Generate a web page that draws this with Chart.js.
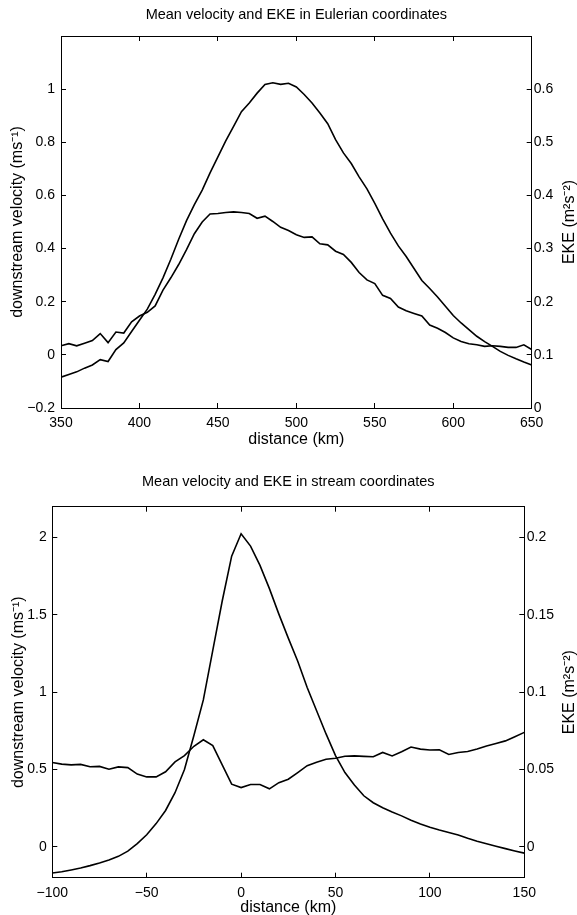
<!DOCTYPE html>
<html>
<head>
<meta charset="utf-8">
<script src="https://cdn.jsdelivr.net/npm/chart.js@4.4.1/dist/chart.umd.min.js"></script>
<style>
  body { margin: 0; background: #fff; }
  .panel { position: relative; width: 577px; }
</style>
</head>
<body>
<div class="panel" style="height:450px"><canvas id="eulerChart"></canvas></div>
<div class="panel" style="height:465px"><canvas id="streamChart"></canvas></div>
<script>
// Eulerian coordinates, 5 km spacing
const distEuler = [350, 355, 360, 365, 370, 375, 380, 385, 390, 395, 400, 405, 410, 415, 420, 425, 430, 435, 440, 445,
  450, 455, 460, 465, 470, 475, 480, 485, 490, 495, 500, 505, 510, 515, 520, 525, 530, 535, 540, 545,
  550, 555, 560, 565, 570, 575, 580, 585, 590, 595, 600, 605, 610, 615, 620, 625, 630, 635, 640, 645, 650];
const velEuler = [-0.084, -0.074, -0.064, -0.05, -0.038, -0.018, -0.025, 0.02, 0.045, 0.088, 0.13, 0.172, 0.228, 0.29, 0.36, 0.435, 0.505, 0.565, 0.62, 0.685,
  0.745, 0.805, 0.86, 0.915, 0.948, 0.985, 1.018, 1.024, 1.018, 1.022, 1.008, 0.98, 0.948, 0.91, 0.87, 0.81, 0.76, 0.72, 0.67, 0.625,
  0.57, 0.512, 0.458, 0.41, 0.37, 0.325, 0.28, 0.25, 0.218, 0.183, 0.148, 0.12, 0.095, 0.07, 0.05, 0.032, 0.013, -0.002, -0.015, -0.027, -0.038];
const ekeEuler = [0.117, 0.121, 0.117, 0.122, 0.127, 0.14, 0.123, 0.143, 0.141, 0.162, 0.173, 0.18, 0.192, 0.222, 0.245, 0.27, 0.298, 0.328, 0.35, 0.365,
  0.366, 0.368, 0.369, 0.368, 0.366, 0.357, 0.361, 0.351, 0.34, 0.334, 0.326, 0.321, 0.322, 0.309, 0.307, 0.295, 0.289, 0.274, 0.255, 0.241,
  0.234, 0.212, 0.206, 0.19, 0.183, 0.178, 0.173, 0.156, 0.15, 0.142, 0.132, 0.125, 0.121, 0.119, 0.116, 0.117, 0.116, 0.114, 0.114, 0.119, 0.11];

// stream coordinates, 5 km spacing
const distStream = [-100, -95, -90, -85, -80, -75, -70, -65, -60, -55, -50, -45, -40, -35, -30, -25, -20, -15, -10, -5,
  0, 5, 10, 15, 20, 25, 30, 35, 40, 45, 50, 55, 60, 65, 70, 75, 80, 85, 90, 95,
  100, 105, 110, 115, 120, 125, 130, 135, 140, 145, 150];
const velStream = [-0.17, -0.162, -0.15, -0.137, -0.122, -0.105, -0.085, -0.062, -0.028, 0.02, 0.078, 0.15, 0.235, 0.35, 0.5, 0.72, 0.95, 1.27, 1.59, 1.88,
  2.025, 1.945, 1.82, 1.67, 1.505, 1.35, 1.2, 1.03, 0.88, 0.73, 0.59, 0.48, 0.4, 0.33, 0.285, 0.252, 0.225, 0.2, 0.172, 0.148,
  0.126, 0.108, 0.092, 0.076, 0.055, 0.036, 0.019, 0.003, -0.012, -0.027, -0.041];
const ekeStream = [0.0545, 0.0535, 0.053, 0.0533, 0.0518, 0.052, 0.0502, 0.0517, 0.0512, 0.047, 0.0452, 0.0452, 0.0485, 0.0549, 0.059, 0.065, 0.0692, 0.0655, 0.053, 0.0405,
  0.0383, 0.0403, 0.0403, 0.0375, 0.0415, 0.0437, 0.048, 0.0525, 0.0547, 0.0566, 0.0573, 0.0586, 0.0588, 0.0585, 0.0582, 0.061, 0.0588, 0.0615, 0.0645, 0.0632,
  0.0626, 0.0627, 0.0597, 0.061, 0.0616, 0.0633, 0.0652, 0.0668, 0.0685, 0.0712, 0.074];

// tick labels
const eulerXTicks = [350, 400, 450, 500, 550, 600, 650];
const eulerVelTicks = [-0.2, 0, 0.2, 0.4, 0.6, 0.8, 1];
const eulerEkeTicks = [0, 0.1, 0.2, 0.3, 0.4, 0.5, 0.6];
const streamXTicks = [-100, -50, 0, 50, 100, 150];
const streamVelTicks = [0, 0.5, 1, 1.5, 2];
const streamEkeTicks = [0, 0.05, 0.1, 0.15, 0.2];

const FONT = '"Liberation Sans", Arial, Helvetica, sans-serif';
Chart.defaults.font.family = FONT;
Chart.defaults.color = '#000';

const fmt = v => String(+Number(v).toFixed(3)).replace('-', '\u2212');

// right hand label reads bottom-to-top like the left one
const rightLabel = {
    id: 'rightLabel',
    afterDraw(chart, args, opts) {
        const {ctx, chartArea} = chart;
        ctx.save();
        ctx.translate(opts.x, (chartArea.top + chartArea.bottom) / 2);
        ctx.rotate(-Math.PI / 2);
        ctx.font = '16px ' + FONT;
        ctx.fillStyle = '#000';
        ctx.textAlign = 'center';
        ctx.textBaseline = 'middle';
        ctx.fillText(opts.text, 0, 0);
        ctx.restore();
    }
};

function tickAxis(cfg) {
    return {
        type: 'linear',
        position: cfg.position,
        min: cfg.min,
        max: cfg.max,
        afterBuildTicks: s => { s.ticks = cfg.ticks.map(v => ({value: v})); },
        afterFit: s => {
            if (cfg.width !== undefined) s.width = cfg.width;
            if (cfg.height !== undefined) s.height = cfg.height;
        },
        grid: { drawOnChartArea: false, drawTicks: true, tickLength: -5, color: '#000', tickColor: '#000', tickWidth: 1 },
        border: { display: true, color: '#000', width: 1 },
        ticks: {
            display: cfg.labels !== false,
            color: '#000',
            font: { size: 14 },
            padding: cfg.padding || 0,
            autoSkip: false,
            maxRotation: 0,
            callback: v => fmt(v)
        },
        title: cfg.title ? { display: true, text: cfg.title, color: '#000', font: { size: 16 }, padding: cfg.titlePad } : { display: false }
    };
}

function createPanel(id, p) {
    const ctx = document.getElementById(id).getContext('2d');
    new Chart(ctx, {
        type: 'line',
        data: {
            datasets: [{
                label: 'downstream velocity',
                data: p.dist.map((d, i) => ({x: d, y: p.vel[i]})),
                xAxisID: 'x',
                yAxisID: 'y',
                borderColor: '#000',
                borderWidth: 1.6,
                pointRadius: 0,
                fill: false,
                tension: 0
            }, {
                label: 'EKE',
                data: p.dist.map((d, i) => ({x: d, y: p.eke[i]})),
                xAxisID: 'x',
                yAxisID: 'y2',
                borderColor: '#000',
                borderWidth: 1.6,
                pointRadius: 0,
                fill: false,
                tension: 0
            }]
        },
        options: {
            responsive: true,
            maintainAspectRatio: false,
            animation: false,
            devicePixelRatio: 1,
            layout: { padding: 0 },
            scales: {
                x: tickAxis({ position: 'bottom', min: p.xMin, max: p.xMax, ticks: p.xTicks, height: p.xHeight,
                    padding: p.xPad, title: 'distance (km)', titlePad: { top: 0, bottom: p.xTitleBottom } }),
                x2: tickAxis({ position: 'top', min: p.xMin, max: p.xMax, ticks: p.xTicks, height: 0, labels: false }),
                y: tickAxis({ position: 'left', min: p.velMin, max: p.velMax, ticks: p.velTicks, width: p.leftW,
                    padding: p.leftPad, title: 'downstream velocity (ms\u207B\u00B9)', titlePad: { top: p.yTitleTop, bottom: 0 } }),
                y2: tickAxis({ position: 'right', min: p.ekeMin, max: p.ekeMax, ticks: p.ekeTicks, width: p.rightW,
                    padding: p.rightPad })
            },
            plugins: {
                legend: { display: false },
                tooltip: { enabled: false },
                title: {
                    display: true,
                    fullSize: false,
                    text: p.title,
                    color: '#000',
                    font: { size: 14.5, weight: 'normal' },
                    padding: p.titlePad
                },
                rightLabel: { text: 'EKE (m\u00B2s\u207B\u00B2)', x: 569.5 }
            }
        },
        plugins: [rightLabel]
    });
}

createPanel('eulerChart', {
    title: 'Mean velocity and EKE in Eulerian coordinates',
    titlePad: { top: 6.3, bottom: 12.3 },
    dist: distEuler, vel: velEuler, eke: ekeEuler,
    xMin: 350, xMax: 650, xTicks: eulerXTicks, xHeight: 42, xPad: 12, xTitleBottom: 1,
    velMin: -0.2, velMax: 1.2, velTicks: eulerVelTicks, leftW: 61, leftPad: 11, yTitleTop: 7.8,
    ekeMin: 0, ekeMax: 0.7, ekeTicks: eulerEkeTicks, rightW: 45.3, rightPad: 7
});

createPanel('streamChart', {
    title: 'Mean velocity and EKE in stream coordinates',
    titlePad: { top: 23.4, bottom: 15.9 },
    dist: distStream, vel: velStream, eke: ekeStream,
    xMin: -100, xMax: 150, xTicks: streamXTicks, xHeight: 37.3, xPad: 12.5, xTitleBottom: -2,
    velMin: -0.2, velMax: 2.2, velTicks: streamVelTicks, leftW: 52.3, leftPad: 10.6, yTitleTop: 9,
    ekeMin: -0.02, ekeMax: 0.22, ekeTicks: streamEkeTicks, rightW: 52.7, rightPad: 7.4
});
</script>
</body>
</html>
